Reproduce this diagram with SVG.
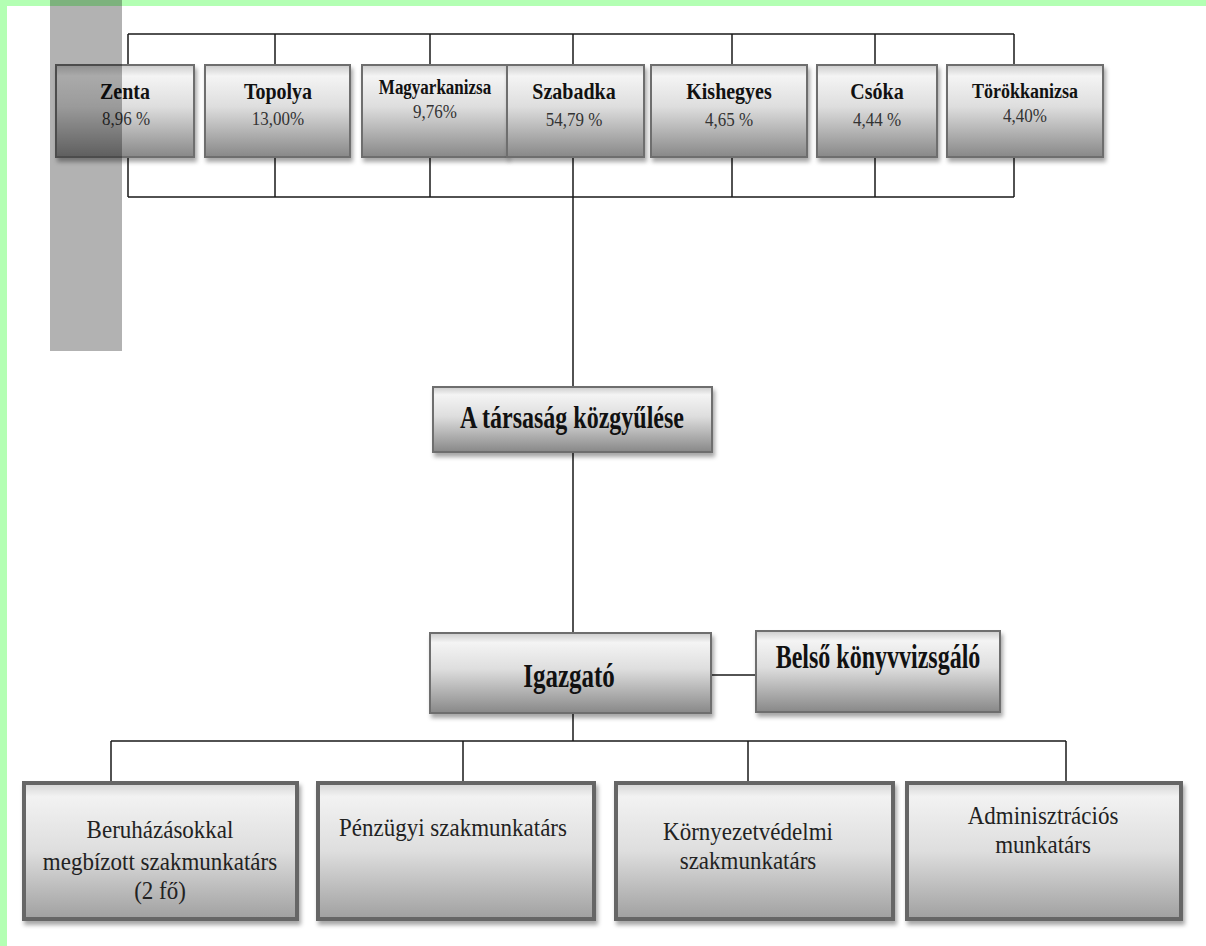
<svg xmlns="http://www.w3.org/2000/svg" width="1206" height="946" viewBox="0 0 1206 946">
<defs>
<linearGradient id="gTop" x1="0" y1="0" x2="0" y2="1">
<stop offset="0" stop-color="#cccccc"/>
<stop offset="0.12" stop-color="#f4f4f4"/>
<stop offset="0.45" stop-color="#dedede"/>
<stop offset="1" stop-color="#888888"/>
</linearGradient>
<linearGradient id="gBot" x1="0" y1="0" x2="0" y2="1">
<stop offset="0" stop-color="#d4d4d4"/>
<stop offset="0.1" stop-color="#f2f2f2"/>
<stop offset="0.5" stop-color="#dedede"/>
<stop offset="1" stop-color="#a0a0a0"/>
</linearGradient>
<filter id="sh" x="-10%" y="-10%" width="125%" height="135%">
<feDropShadow dx="2" dy="4" stdDeviation="2" flood-color="#000" flood-opacity="0.35"/>
</filter>
</defs>
<style>
.bx{fill:url(#gTop);stroke:#6e6e6e;stroke-width:2;filter:url(#sh)}
.bb{fill:url(#gBot);stroke:#666;stroke-width:4;filter:url(#sh)}
.ln{stroke:#1a1a1a;stroke-width:1.5;fill:none}
text{font-family:"Liberation Serif","Times New Roman",serif;text-anchor:middle}
.nm{font-weight:bold;font-size:20px;fill:#111}
.nms{font-weight:bold;font-size:17px;fill:#111}
.pc{font-size:17px;fill:#333}
.md{font-weight:bold;font-size:24px;fill:#111}
.bt{font-size:23px;fill:#222}
</style>
<rect x="0" y="0" width="1206" height="946" fill="#fff"/>
<rect x="0" y="0" width="1206" height="6" fill="#b3ffb3"/>
<rect x="0" y="0" width="7" height="946" fill="#b3ffb3"/>

<g id="connectors">
<path class="ln" d="M128 34H1014M128 197H1014"/>
<path class="ln" d="M128 34V65M275 34V65M430 34V65M573 34V65M732 34V65M875 34V65M1014 34V65"/>
<path class="ln" d="M128 157V197M275 157V197M430 157V197M573 157V197M732 157V197M875 157V197M1014 157V197"/>
<path class="ln" d="M573 197V387M573 452V633M573 713V741"/>
<path class="ln" d="M711 675H756"/>
<path class="ln" d="M111 741H1066M111 741V783M463 741V783M748 741V783M1066 741V783"/>
</g>

<g id="zenta">
<rect class="bx" x="56" y="65" width="138" height="92"/>
<text class="nm" transform="translate(125,99) scale(1,1.2)">Zenta</text>
<text class="pc" transform="translate(126,125) scale(1,1.15)">8,96 %</text>
</g>
<g id="topolya">
<rect class="bx" x="205" y="65" width="145" height="92"/>
<text class="nm" transform="translate(278,99) scale(1,1.2)">Topolya</text>
<text class="pc" transform="translate(278,125) scale(1,1.15)">13,00%</text>
</g>
<g id="magyarkanizsa">
<rect class="bx" x="362" y="65" width="145" height="92"/>
<text class="nms" transform="translate(435,94) scale(1,1.2)">Magyarkanizsa</text>
<text class="pc" transform="translate(435,118) scale(1,1.15)">9,76%</text>
</g>
<g id="szabadka">
<rect class="bx" x="507" y="65" width="137" height="92"/>
<text class="nm" transform="translate(574,99) scale(1,1.2)">Szabadka</text>
<text class="pc" transform="translate(574,126) scale(1,1.15)">54,79 %</text>
</g>
<g id="kishegyes">
<rect class="bx" x="651" y="65" width="156" height="92"/>
<text class="nm" transform="translate(729,99) scale(1,1.2)">Kishegyes</text>
<text class="pc" transform="translate(729,126) scale(1,1.15)">4,65 %</text>
</g>
<g id="csoka">
<rect class="bx" x="817" y="65" width="120" height="92"/>
<text class="nm" transform="translate(877,99) scale(1,1.2)">Csóka</text>
<text class="pc" transform="translate(877,126) scale(1,1.15)">4,44 %</text>
</g>
<g id="torokkanizsa">
<rect class="bx" x="947" y="65" width="156" height="92"/>
<text class="nms" style="font-size:18px" transform="translate(1025,98) scale(1,1.2)">Törökkanizsa</text>
<text class="pc" transform="translate(1025,122) scale(1,1.15)">4,40%</text>
</g>

<g id="kozgyules">
<rect class="bx" x="433" y="387" width="279" height="65"/>
<text class="md" transform="translate(572,428) scale(1,1.35)">A társaság közgyűlése</text>
</g>
<g id="igazgato">
<rect class="bx" x="430" y="633" width="281" height="80"/>
<text class="md" style="font-size:25px" transform="translate(569,687) scale(1,1.35)">Igazgató</text>
</g>
<g id="konyvvizsgalo">
<rect class="bx" x="756" y="631" width="244" height="81"/>
<text class="md" transform="translate(878,668) scale(1,1.4)">Belső könyvvizsgáló</text>
</g>

<g id="beruhazas">
<rect class="bb" x="24" y="783" width="273" height="136"/>
<text class="bt" transform="translate(160,838) scale(1,1.12)">Beruházásokkal</text>
<text class="bt" transform="translate(160,870) scale(1,1.12)">megbízott szakmunkatárs</text>
<text class="bt" transform="translate(160,899) scale(1,1.12)">(2 fő)</text>
</g>
<g id="penzugyi">
<rect class="bb" x="318" y="783" width="276" height="136"/>
<text class="bt" transform="translate(453,836) scale(1,1.12)">Pénzügyi szakmunkatárs</text>
</g>
<g id="kornyezet">
<rect class="bb" x="616" y="783" width="277" height="136"/>
<text class="bt" transform="translate(748,840) scale(1,1.12)">Környezetvédelmi</text>
<text class="bt" transform="translate(748,869) scale(1,1.12)">szakmunkatárs</text>
</g>
<g id="adminisztracio">
<rect class="bb" x="907" y="783" width="274" height="136"/>
<text class="bt" transform="translate(1043,824) scale(1,1.12)">Adminisztrációs</text>
<text class="bt" transform="translate(1043,853) scale(1,1.12)">munkatárs</text>
</g>

<rect x="50" y="0" width="72" height="351" fill="#000" fill-opacity="0.3"/>
</svg>
